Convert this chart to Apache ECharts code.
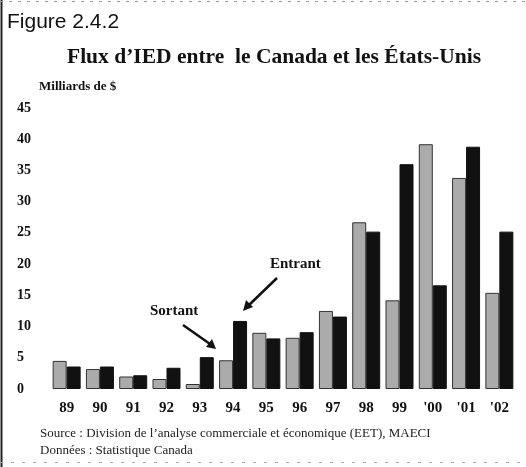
<!DOCTYPE html>
<html>
<head>
<meta charset="utf-8">
<script src="https://cdn.jsdelivr.net/npm/echarts@6/dist/echarts.min.js"></script>
<style>html,body{margin:0;padding:0;background:#fff;}#c{width:526px;height:467px;}</style>
</head>
<body>
<div id="c"></div>
<script>
var categories = ['89','90','91','92','93','94','95','96','97','98','99',"'00","'01","'02"];
var sortant = [4.5, 3.2, 2.0, 1.6, 0.8, 4.6, 9.0, 8.2, 12.5, 26.7, 14.2, 39.2, 33.8, 15.4];
var entrant = [3.6, 3.6, 2.2, 3.4, 5.1, 10.9, 8.1, 9.1, 11.6, 25.2, 36.0, 16.6, 38.8, 25.2];
var yTicks = [0, 5, 10, 15, 20, 25, 30, 35, 40, 45];

var serif = '"Liberation Serif", "Times New Roman", serif';
var chart = echarts.init(document.getElementById('c'));
chart.setOption({
  animation: false,
  backgroundColor: '#fff',
  grid: {left: 50, right: 10, top: 108, bottom: 78},
  xAxis: {
    type: 'category',
    data: categories,
    axisLine: {show: false},
    axisTick: {show: false},
    axisLabel: {fontFamily: serif, fontWeight: 'bold', fontSize: 15, color: '#111', margin: 12}
  },
  yAxis: {
    type: 'value',
    min: yTicks[0], max: yTicks[yTicks.length - 1], interval: 5,
    axisLine: {show: false},
    axisTick: {show: false},
    splitLine: {show: false},
    axisLabel: {fontFamily: serif, fontWeight: 'bold', fontSize: 14, color: '#111', align: 'left', margin: 33}
  },
  series: [
    {name: 'Sortant', type: 'bar', data: sortant, barWidth: 14, barGap: '0%',
     itemStyle: {color: '#ababab', borderColor: '#333', borderWidth: 1}},
    {name: 'Entrant', type: 'bar', data: entrant, barWidth: 14,
     itemStyle: {color: '#111', borderColor: '#111', borderWidth: 1}}
  ],
  graphic: [
    {type: 'line', shape: {x1: 1.5, y1: 0, x2: 1.5, y2: 467}, style: {stroke: '#222', lineWidth: 2}},
    {type: 'line', shape: {x1: 0, y1: 1.5, x2: 526, y2: 1.5}, style: {stroke: '#999', lineWidth: 1, lineDash: [3, 6]}},
    {type: 'line', shape: {x1: 0, y1: 462.5, x2: 526, y2: 462.5}, style: {stroke: '#aaa', lineWidth: 1, lineDash: [3, 8]}},
    {type: 'text', left: 7, top: 12, style: {text: 'Figure 2.4.2', font: '21px "Liberation Sans", Arial, sans-serif', fill: '#111'}},
    {type: 'text', left: 67, top: 46, style: {text: 'Flux d\u2019IED entre  le Canada et les \u00c9tats-Unis', font: 'bold 21.5px ' + serif, fill: '#111'}},
    {type: 'text', left: 39, top: 80, style: {text: 'Milliards de $', font: 'bold 13px ' + serif, fill: '#111'}},
    {type: 'text', left: 270, top: 257, style: {text: 'Entrant', font: 'bold 15px ' + serif, fill: '#111'}},
    {type: 'text', left: 150, top: 304, style: {text: 'Sortant', font: 'bold 15px ' + serif, fill: '#111'}},
    {type: 'line', shape: {x1: 277, y1: 278, x2: 248, y2: 306}, style: {stroke: '#111', lineWidth: 2.5}},
    {type: 'polygon', shape: {points: [[243, 311], [246, 300], [253, 307]]}, style: {fill: '#111'}},
    {type: 'line', shape: {x1: 183, y1: 325, x2: 210, y2: 344}, style: {stroke: '#111', lineWidth: 2.5}},
    {type: 'polygon', shape: {points: [[216, 349], [206, 347], [212, 339]]}, style: {fill: '#111'}},
    {type: 'text', left: 40, top: 427, style: {text: 'Source : Division de l\u2019analyse commerciale et \u00e9conomique (EET), MAECI', font: '13px ' + serif, fill: '#222'}},
    {type: 'text', left: 40, top: 444, style: {text: 'Donn\u00e9es : Statistique Canada', font: '13px ' + serif, fill: '#222'}}
  ]
});
</script>
</body>
</html>
